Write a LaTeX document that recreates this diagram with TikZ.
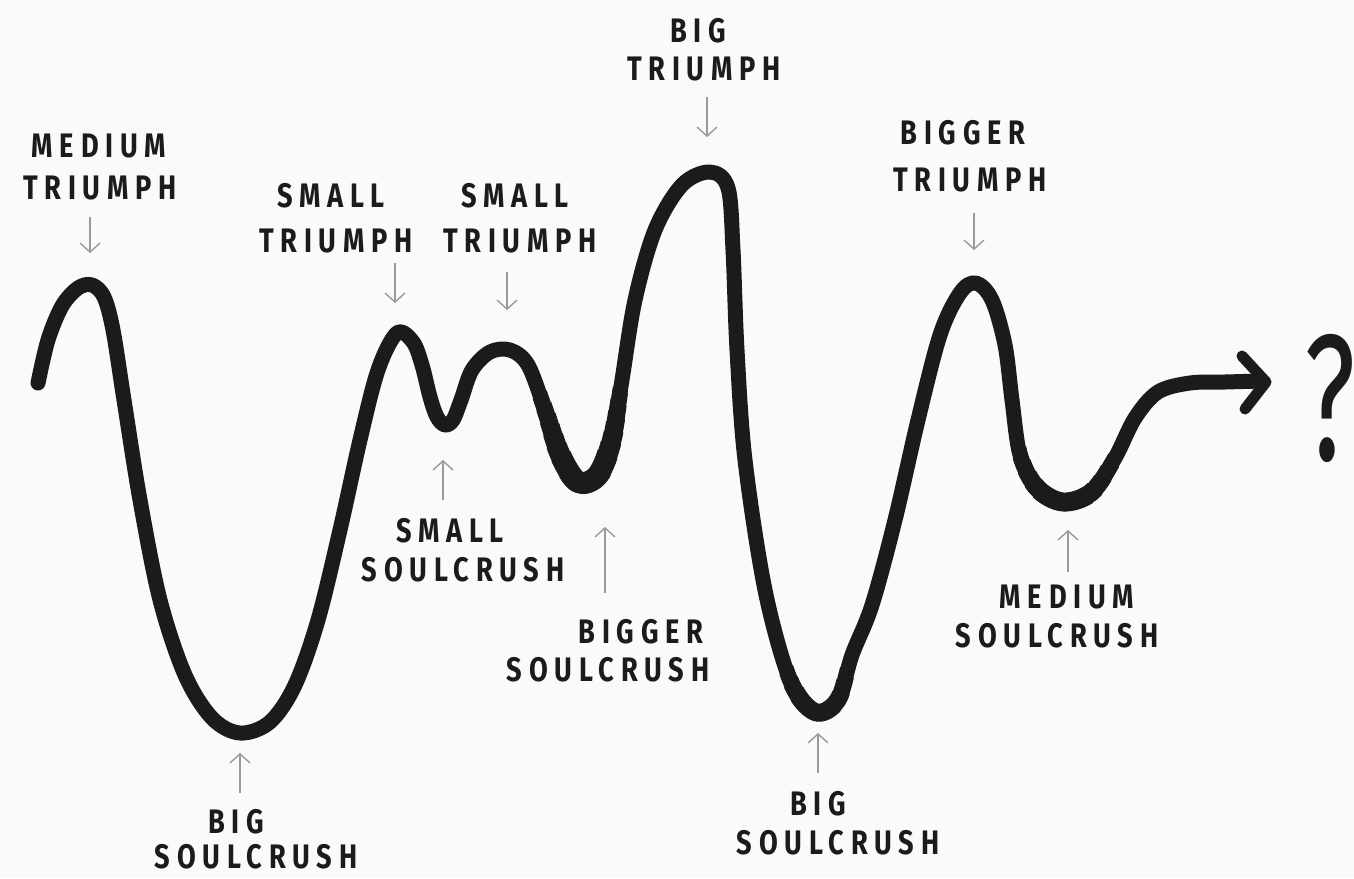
\documentclass[tikz,border=0pt]{standalone}
\usepackage{fontspec}
\usepackage{graphicx}
\usetikzlibrary{arrows.meta}
\newfontfamily\hand{Fira Sans}[FakeStretch=0.8, LetterSpace=20]
\newfontfamily\qfont{Fira Sans}
\definecolor{ink}{HTML}{1B1B1B}
\definecolor{pencil}{HTML}{9A9A9A}
\definecolor{paper}{HTML}{FAFAFA}
\tikzset{
  lbl/.style={inner sep=0pt, text=ink, font=\hand\bfseries\fontsize{34}{34}\selectfont, anchor=center},
  pointer/.style={draw=pencil, line width=1.4pt, -{Straight Barb[length=9pt,width=20pt,line width=1.4pt]}},
  lifeline/.style={draw=ink, line width=15pt, line cap=round, line join=round},
}
\def\lifepath{plot[smooth, tension=0.55] coordinates {
(38,383) (48,340) (62,306) (78,288) (92,285) (104,297) (113,330) (124,400) (140,500) (160,600) (185,675) (212,718) (240,733) (270,722) (295,685) (318,620) (340,530) (360,440) (378,370) (397,333) (413,342) (422,365) (430,397) (437,417) (445,425) (453,420) (461,400) (472,370) (490,352) (510,350) (528,365) (545,410) (560,455) (578,482) (598,475) (612,440) (622,380) (635,300) (655,230) (682,185) (710,172) (728,188) (733,250) (737,350) (745,460) (765,590) (790,680) (815,712) (838,700) (852,655) (872,605) (895,520) (918,420) (940,335) (960,293) (976,283) (992,300) (1005,345) (1012,400) (1020,455) (1037,488) (1063,502) (1092,492) (1115,458) (1135,418) (1158,392) (1190,383) (1225,382) (1262,381)}}
\begin{document}
\begin{tikzpicture}[x=1pt,y=-1pt]
\fill[paper] (0,0) rectangle (1354,878);
\useasboundingbox (0,0) rectangle (1354,878);

% main curve
\draw[lifeline] \lifepath;
% gradually thicker stretches of the hand-drawn line
\foreach \w/\r in {16/90,17/78,18/66,19/55,20/45,21/35,22/26}{
  \begin{scope}\clip (585,472) circle (\r);\draw[lifeline, line width=\w pt] \lifepath;\end{scope}}
\foreach \w/\r in {16/65,17/52,18/40,19/30}{
  \begin{scope}\clip (1063,500) circle (\r);\draw[lifeline, line width=\w pt] \lifepath;\end{scope}}
\foreach \w/\r in {16/50,17/38,18/26}{
  \begin{scope}\clip (815,710) circle (\r);\draw[lifeline, line width=\w pt] \lifepath;\end{scope}}
\draw[draw=ink, line width=11pt, line cap=round, line join=round] (1242,356) -- (1266,382) -- (1245,409);

\node[inner sep=0pt, text=ink, font=\qfont\fontsize{180}{180}\selectfont] (q) at (1330,398) {\scalebox{0.62}[1]{?}};

% labels
\node[lbl] (mt1) at (99,146) {MEDIUM};
\node[lbl] (mt2) at (100,188) {TRIUMPH};
\node[lbl] (st1) at (331,196) {SMALL};
\node[lbl] (st2) at (336,241) {TRIUMPH};
\node[lbl] (su1) at (515,196) {SMALL};
\node[lbl] (su2) at (520,241) {TRIUMPH};
\node[lbl] (bt1) at (698,31) {BIG};
\node[lbl] (bt2) at (704,69) {TRIUMPH};
\node[lbl] (gt1) at (963,133) {BIGGER};
\node[lbl] (gt2) at (970,180) {TRIUMPH};
\node[lbl] (ss1) at (450,531) {SMALL};
\node[lbl] (ss2) at (463,570) {SOULCRUSH};
\node[lbl] (gs1) at (641,632) {BIGGER};
\node[lbl] (gs2) at (608,670) {SOULCRUSH};
\node[lbl] (bs1) at (236,822) {BIG};
\node[lbl] (bs2) at (256,857) {SOULCRUSH};
\node[lbl] (bc1) at (818,804) {BIG};
\node[lbl] (bc2) at (838,843) {SOULCRUSH};
\node[lbl] (ms1) at (1067,597) {MEDIUM};
\node[lbl] (ms2) at (1057,636) {SOULCRUSH};

% pointer targets
\coordinate (pmt) at (90,253);
\coordinate (pst) at (395,303);
\coordinate (psu) at (507,310);
\coordinate (pbt) at (707,137);
\coordinate (pgt) at (974,250);
\coordinate (pss) at (443,460);
\coordinate (pgs) at (605,527);
\coordinate (pbs) at (240,753);
\coordinate (pbc) at (818,733);
\coordinate (pms) at (1068,530);

\draw[pointer] (90,217) -- (pmt);
\draw[pointer] (395,263) -- (pst);
\draw[pointer] (507,272) -- (psu);
\draw[pointer] (707,97) -- (pbt);
\draw[pointer] (974,213) -- (pgt);
\draw[pointer] (443,500) -- (pss);
\draw[pointer] (605,593) -- (pgs);
\draw[pointer] (240,793) -- (pbs);
\draw[pointer] (818,773) -- (pbc);
\draw[pointer] (1068,572) -- (pms);
\end{tikzpicture}
\end{document}
